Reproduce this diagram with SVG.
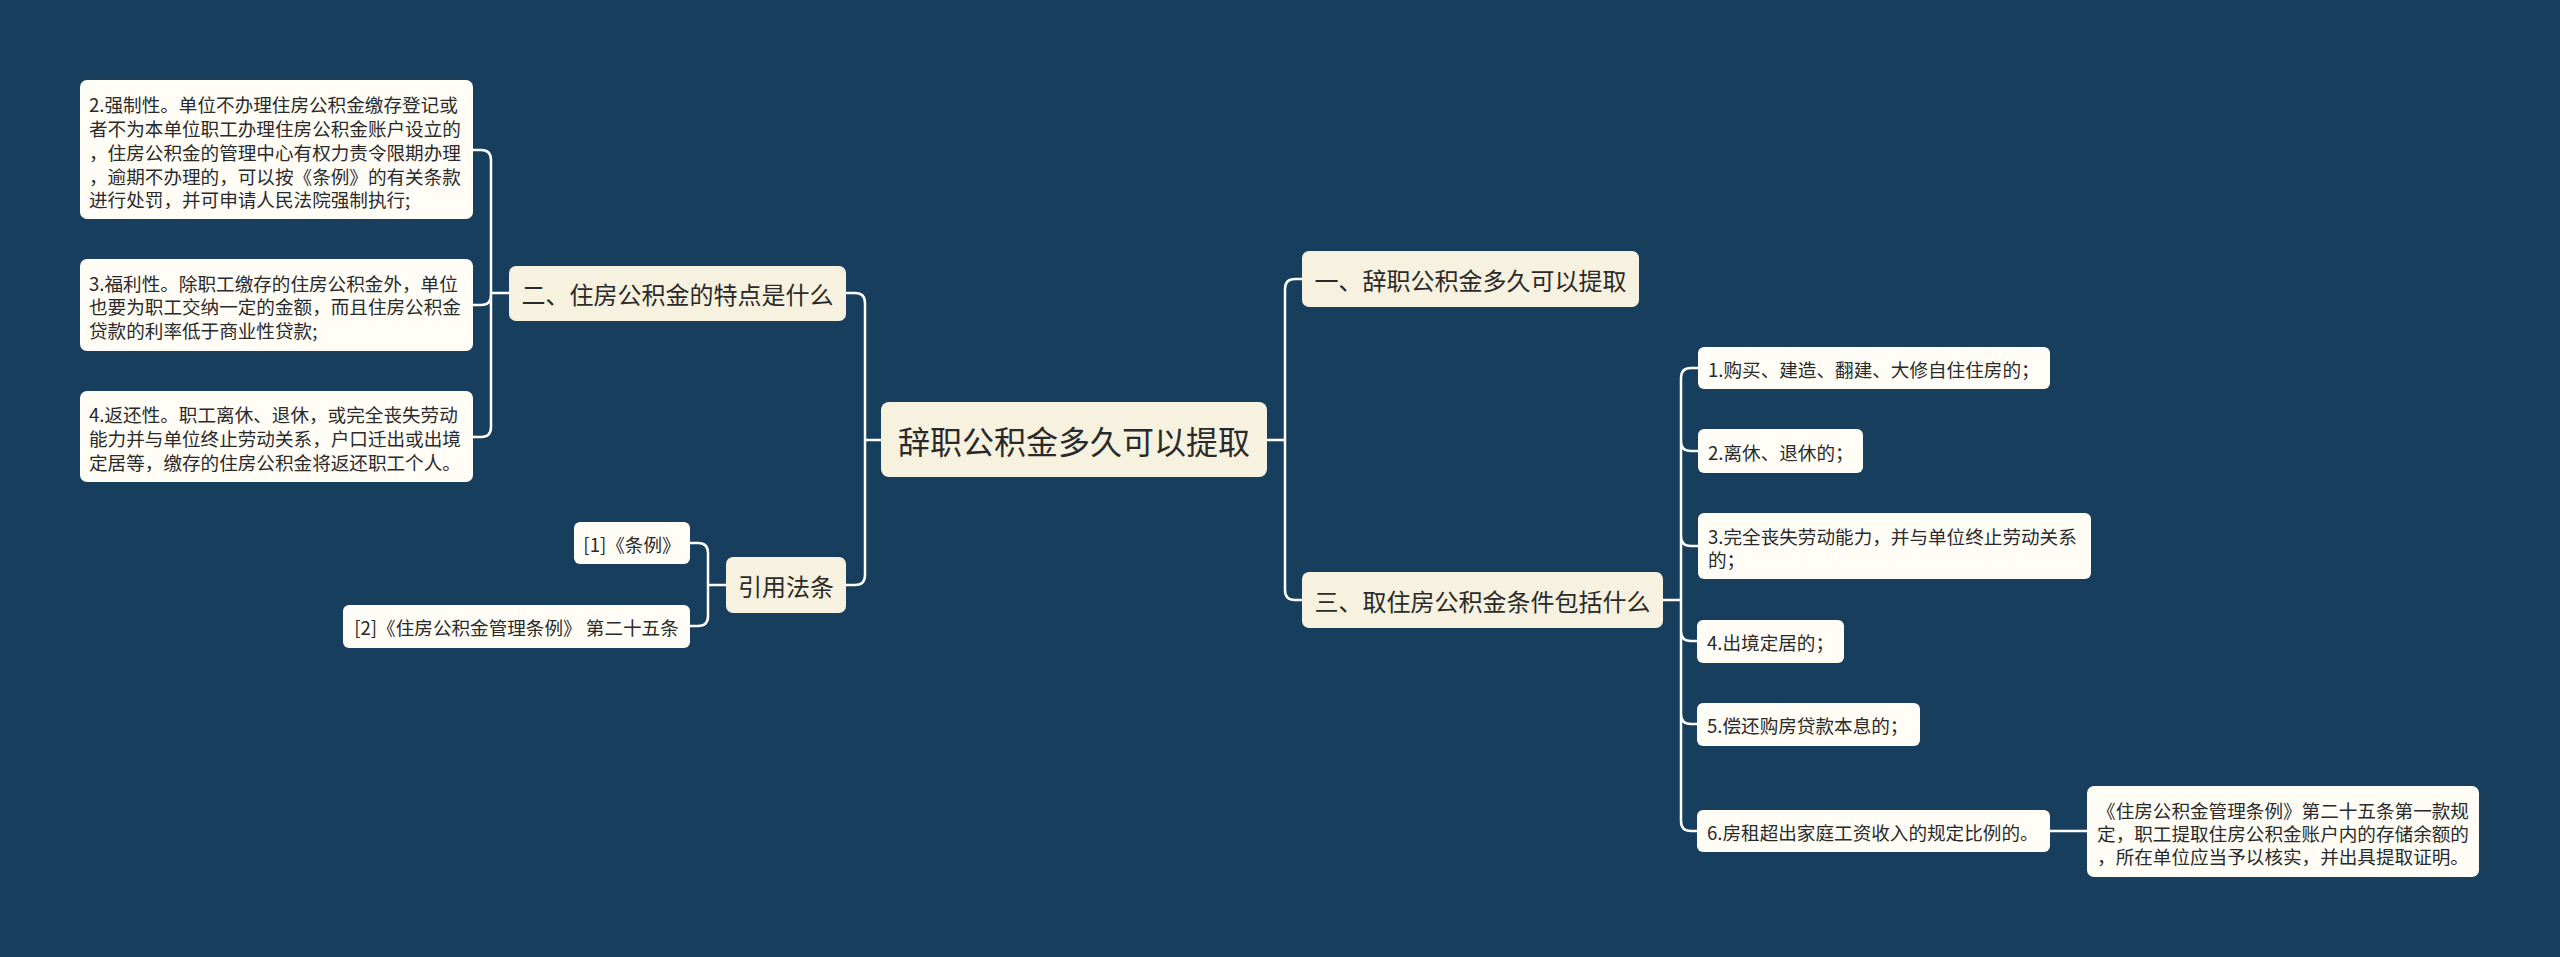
<svg xmlns="http://www.w3.org/2000/svg" width="2560" height="957" viewBox="0 0 2560 957">
<style>
.bg{fill:#183e5e}
.main{fill:#f7f2df}
.leaf{fill:#fffdf6}
.t{font-family:"Noto Sans CJK SC","Noto Sans",sans-serif;fill:#2a2a2a;dominant-baseline:central}
.c{font-size:32px}
.h{font-size:24px}
.s{font-size:18.6px}
.mid{text-anchor:middle}
.ln{fill:none;stroke:#ffffff;stroke-width:2.5;stroke-linecap:round;stroke-linejoin:round}
</style>
<rect class="bg" x="0" y="0" width="2560" height="957"/>
<g id="connectors">
<path class="ln" d="M846,293 H855 Q865,293 865,303 V575 Q865,585 855,585 H846 M865,440 H881"/>
<path class="ln" d="M473,150 H481 Q491,150 491,160 V427 Q491,437 481,437 H473 M491,295 Q491,305 481,305 H473 M491,293 H509"/>
<path class="ln" d="M690,543 H698 Q708,543 708,553 V616 Q708,626 698,626 H690 M708,585 H726"/>
<path class="ln" d="M1267,440 H1285 M1302,279 H1295 Q1285,279 1285,289 V590 Q1285,600 1295,600 H1302"/>
<path class="ln" d="M1663,600 H1681 M1698,368 H1691 Q1681,368 1681,378 V821 Q1681,831 1691,831 H1697 M1681,441 Q1681,451 1691,451 H1698 M1681,536 Q1681,546 1691,546 H1698 M1681,631 Q1681,641 1691,641 H1697 M1681,714 Q1681,724 1691,724 H1697"/>
<path class="ln" d="M2050,831 H2087"/>
</g>
<g id="center">
<rect class="main" x="881" y="402" width="386" height="75" rx="8"/>
<text class="t c mid" x="1074" y="440">辞职公积金多久可以提取</text>
</g>
<g id="n2">
<rect class="main" x="509" y="266" width="337" height="55" rx="7"/>
<text class="t h mid" x="677.5" y="293.5">二、住房公积金的特点是什么</text>
</g>
<g id="n2a">
<rect class="leaf" x="80" y="80" width="393" height="139" rx="7"/>
<text class="t s" x="89" y="103">2.强制性。单位不办理住房公积金缴存登记或</text>
<text class="t s" x="89" y="127">者不为本单位职工办理住房公积金账户设立的</text>
<text class="t s" x="89" y="151">，住房公积金的管理中心有权力责令限期办理</text>
<text class="t s" x="89" y="175">，逾期不办理的，可以按《条例》的有关条款</text>
<text class="t s" x="89" y="198">进行处罚，并可申请人民法院强制执行;</text>
</g>
<g id="n2b">
<rect class="leaf" x="80" y="259" width="393" height="92" rx="7"/>
<text class="t s" x="89" y="282">3.福利性。除职工缴存的住房公积金外，单位</text>
<text class="t s" x="89" y="305">也要为职工交纳一定的金额，而且住房公积金</text>
<text class="t s" x="89" y="329">贷款的利率低于商业性贷款;</text>
</g>
<g id="n2c">
<rect class="leaf" x="80" y="391" width="393" height="91" rx="7"/>
<text class="t s" x="89" y="413">4.返还性。职工离休、退休，或完全丧失劳动</text>
<text class="t s" x="89" y="437">能力并与单位终止劳动关系，户口迁出或出境</text>
<text class="t s" x="89" y="461">定居等，缴存的住房公积金将返还职工个人。</text>
</g>
<g id="ref">
<rect class="main" x="726" y="557" width="120" height="56" rx="7"/>
<text class="t h mid" x="786" y="585">引用法条</text>
</g>
<g id="ref1">
<rect class="leaf" x="574" y="522" width="116" height="42" rx="6"/>
<text class="t s mid" x="632" y="543">[1]《条例》</text>
</g>
<g id="ref2">
<rect class="leaf" x="343" y="605" width="347" height="43" rx="6"/>
<text class="t s mid" x="516.5" y="626.5">[2]《住房公积金管理条例》 第二十五条</text>
</g>
<g id="n1">
<rect class="main" x="1302" y="251" width="337" height="56" rx="7"/>
<text class="t h mid" x="1470.5" y="279">一、辞职公积金多久可以提取</text>
</g>
<g id="n3">
<rect class="main" x="1302" y="572" width="361" height="56" rx="7"/>
<text class="t h mid" x="1482.5" y="600">三、取住房公积金条件包括什么</text>
</g>
<g id="r1">
<rect class="leaf" x="1698" y="347" width="352" height="42" rx="6"/>
<text class="t s" x="1708" y="368">1.购买、建造、翻建、大修自住住房的；</text>
</g>
<g id="r2">
<rect class="leaf" x="1698" y="429" width="165" height="44" rx="6"/>
<text class="t s" x="1708" y="451">2.离休、退休的；</text>
</g>
<g id="r3">
<rect class="leaf" x="1698" y="513" width="393" height="66" rx="6"/>
<text class="t s" x="1708" y="535">3.完全丧失劳动能力，并与单位终止劳动关系</text>
<text class="t s" x="1708" y="558">的；</text>
</g>
<g id="r4">
<rect class="leaf" x="1697" y="620" width="147" height="43" rx="6"/>
<text class="t s" x="1707" y="641.5">4.出境定居的；</text>
</g>
<g id="r5">
<rect class="leaf" x="1697" y="703" width="223" height="43" rx="6"/>
<text class="t s" x="1707" y="724.5">5.偿还购房贷款本息的；</text>
</g>
<g id="r6">
<rect class="leaf" x="1697" y="810" width="353" height="42" rx="6"/>
<text class="t s" x="1707" y="831">6.房租超出家庭工资收入的规定比例的。</text>
</g>
<g id="r6a">
<rect class="leaf" x="2087" y="786" width="392" height="91" rx="7"/>
<text class="t s mid" x="2283" y="809">《住房公积金管理条例》第二十五条第一款规</text>
<text class="t s mid" x="2283" y="832">定，职工提取住房公积金账户内的存储余额的</text>
<text class="t s mid" x="2283" y="855">，所在单位应当予以核实，并出具提取证明。</text>
</g>
</svg>
